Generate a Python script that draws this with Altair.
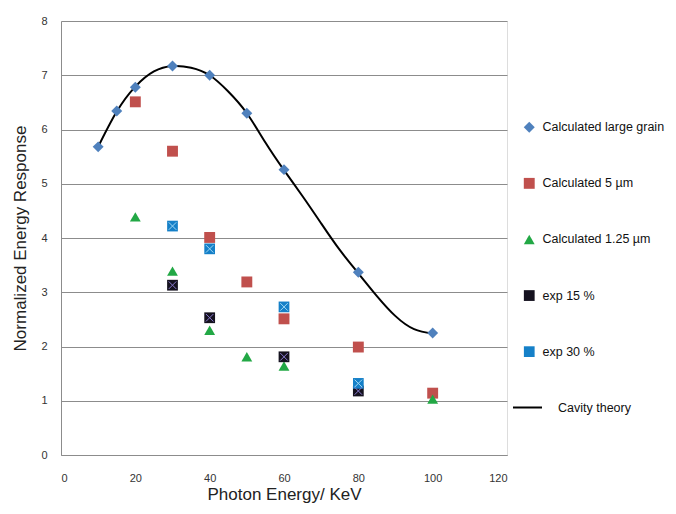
import altair as alt
import pandas as pd

# ---- data ----
series_names = ["Calculated large grain", "Calculated  5 µm", "Calculated  1.25 µm", "exp 15 %", "exp 30 %"]
series_colors = ["#4F81BD", "#C0504D", "#22A845", "#15121F", "#1580C8"]
series_shapes = ["diamond", "square", "triangle-up", "square", "square"]
series_sizes = [120, 115, 150, 100, 100]

energy_large = [10, 15, 20, 30, 40, 50, 60, 80, 100]
resp_large = [5.68, 6.34, 6.78, 7.17, 7.00, 6.30, 5.26, 3.37, 2.25]

energy_5um = [20, 30, 40, 50, 60, 80, 100]
resp_5um = [6.51, 5.60, 4.01, 3.19, 2.51, 1.99, 1.14]

energy_125um = [20, 30, 40, 50, 60, 100]
resp_125um = [4.39, 3.39, 2.30, 1.81, 1.64, 1.03]

energy_exp15 = [30, 40, 60, 80]
resp_exp15 = [3.13, 2.53, 1.81, 1.18]

energy_exp30 = [30, 40, 60, 80]
resp_exp30 = [4.22, 3.80, 2.73, 1.32]

cavity_energy = [10, 15, 20, 25, 30, 35, 40, 45, 50, 55, 60, 65, 70, 75, 80, 85, 90, 95, 100]
cavity_resp = [5.68, 6.33, 6.79, 7.07, 7.17, 7.14, 7.00, 6.70, 6.30, 5.76, 5.25, 4.77,
               4.27, 3.78, 3.35, 2.93, 2.56, 2.32, 2.24]

x_ticks = [0, 20, 40, 60, 80, 100, 120]
y_ticks = [0, 1, 2, 3, 4, 5, 6, 7, 8]

# ---- tables ----
rows = []
for name, xs, ys in zip(series_names,
                        [energy_large, energy_5um, energy_125um, energy_exp15, energy_exp30],
                        [resp_large, resp_5um, resp_125um, resp_exp15, resp_exp30]):
    for x, y in zip(xs, ys):
        rows.append({"series": name, "energy": x, "resp": y, "order": len(rows)})
pts = pd.DataFrame(rows)
curve = pd.DataFrame({"energy": cavity_energy, "resp": cavity_resp, "curve": "Cavity theory"})

FONT = "Liberation Sans"
GRID = "#8c8c8c"

xscale = alt.Scale(domain=[0, 120], nice=False)
yscale = alt.Scale(domain=[0, 8], nice=False)

x_axis = alt.Axis(values=x_ticks, grid=False, ticks=False, tickSize=0, labelPadding=17,
                  domainColor=GRID, labelFont=FONT, labelFontSize=11, labelColor="#333333",
                  title="Photon Energy/ KeV", titleFont=FONT, titleFontSize=17,
                  titleFontWeight="normal", titleColor="#222222", titlePadding=3)
y_axis = alt.Axis(values=y_ticks, grid=True, gridColor=GRID, ticks=False, tickSize=0,
                  labelPadding=14, domainColor=GRID, labelFont=FONT, labelFontSize=11,
                  labelColor="#333333", title="Normalized Energy Response", titleFont=FONT,
                  titleFontSize=17, titleFontWeight="normal", titleColor="#222222",
                  titlePadding=11)

points = alt.Chart(pts).mark_point(filled=True, opacity=1).encode(
    x=alt.X("energy:Q", scale=xscale, axis=x_axis),
    y=alt.Y("resp:Q", scale=yscale, axis=y_axis),
    color=alt.Color("series:N", scale=alt.Scale(domain=series_names, range=series_colors),
                    legend=alt.Legend(title=None, orient="none", legendX=462, legendY=100,
                                      symbolSize=60, symbolStrokeWidth=0, labelFont=FONT,
                                      labelFontSize=12.5, labelColor="#111111", rowPadding=43.1,
                                      labelOffset=7)),
    shape=alt.Shape("series:N", scale=alt.Scale(domain=series_names, range=series_shapes)),
    size=alt.Size("series:N", scale=alt.Scale(domain=series_names, range=series_sizes),
                  legend=None),
    order=alt.Order("order:Q"),
)

xmark = "M-0.75,-0.75L0.75,0.75M0.75,-0.75L-0.75,0.75"
exp15_x = alt.Chart(pts).transform_filter(alt.datum.series == "exp 15 %").mark_point(
    shape=xmark, filled=False, size=100, strokeWidth=1, color="#8a7bd0", opacity=1
).encode(x=alt.X("energy:Q", scale=xscale), y=alt.Y("resp:Q", scale=yscale))
exp30_x = alt.Chart(pts).transform_filter(alt.datum.series == "exp 30 %").mark_point(
    shape=xmark, filled=False, size=100, strokeWidth=1, color="#9fd8f5", opacity=1
).encode(x=alt.X("energy:Q", scale=xscale), y=alt.Y("resp:Q", scale=yscale))

line = alt.Chart(curve).mark_line(interpolate="natural", strokeWidth=2).encode(
    x=alt.X("energy:Q", scale=xscale),
    y=alt.Y("resp:Q", scale=yscale),
    color=alt.Color("curve:N", scale=alt.Scale(domain=["Cavity theory"], range=["#000000"]),
                    legend=alt.Legend(title=None, orient="none", legendX=451, legendY=371,
                                      symbolType="stroke", symbolSize=841,
                                      symbolStrokeWidth=2, labelFont=FONT, labelFontSize=12.5,
                                      labelColor="#111111", labelOffset=15)),
)

chart = alt.layer(line, points, exp15_x, exp30_x).resolve_scale(
    color="independent", shape="independent", size="independent"
).properties(
    width=446, height=434,
    autosize=alt.AutoSizeParams(type="none"),
    padding={"left": 53, "top": 13, "right": 161, "bottom": 50},
).configure_view(stroke=None).configure(background="white")

chart.save("out.html", embed_options={"renderer": "svg", "actions": False})
